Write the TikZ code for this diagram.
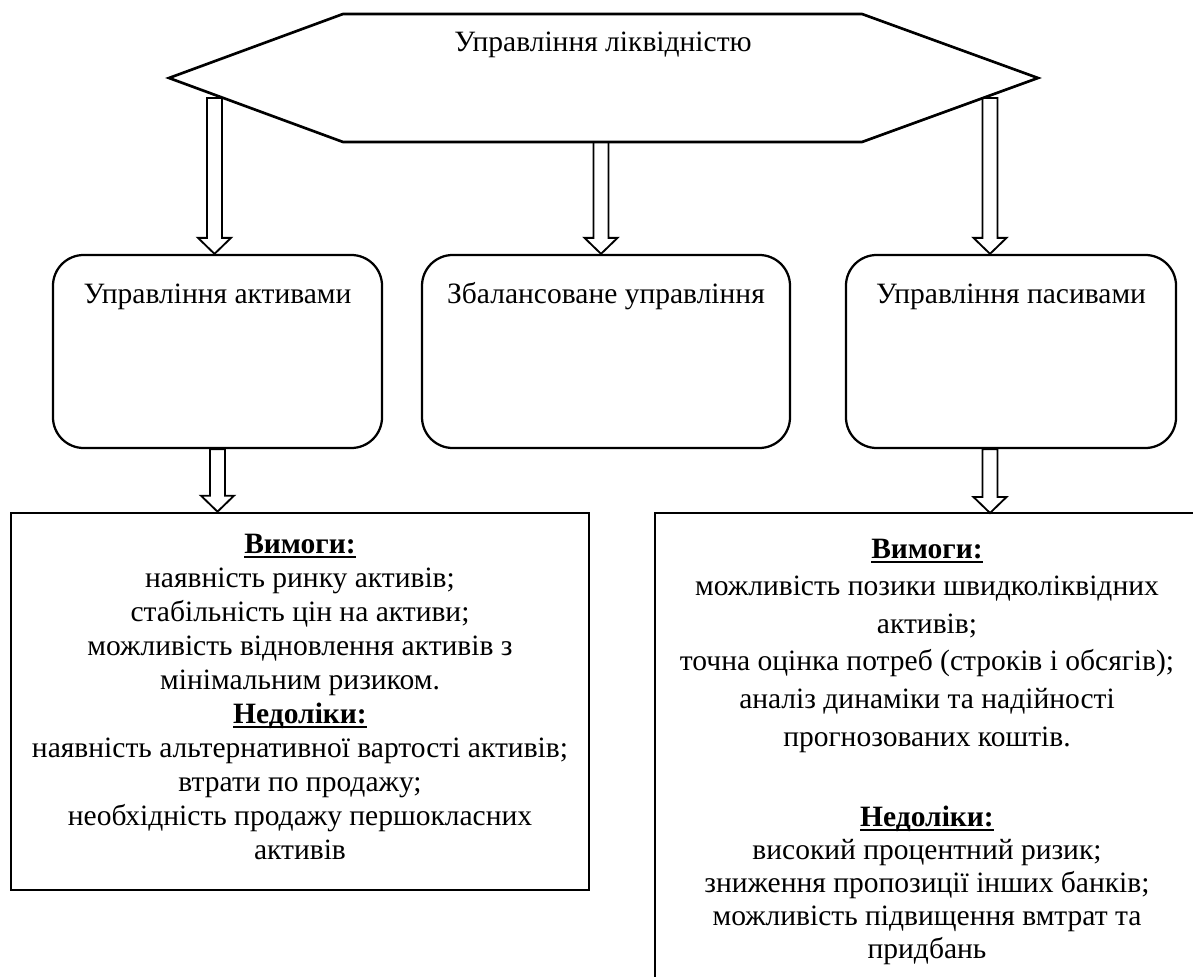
\documentclass[tikz,border=0pt]{standalone}
\usepackage{fontspec}
\setmainfont{Liberation Serif}
\usetikzlibrary{calc}
\newcommand\myul[1]{\setbox0\hbox{\bfseries #1}\rlap{\rule[-2.6pt]{\wd0}{1.2pt}}\box0}
\newcommand\blkarrow[2]{\draw[blk] let \p1=(#1),\p2=(#2) in
  (\x1-3.66pt,\y1) -- (\x1+3.66pt,\y1) -- (\x1+3.66pt,\y2+7.8pt) -- (\x1+8.05pt,\y2+7.8pt)
  -- (\x1,\y2) -- (\x1-8.05pt,\y2+7.8pt) -- (\x1-3.66pt,\y2+7.8pt) -- cycle;}
\begin{document}
\begin{tikzpicture}[x=0.4878pt,y=-0.4878pt,
  txt/.style={font=\fontsize{14.4}{16}\selectfont, inner sep=0pt, anchor=base},
  hexline/.style={line width=1.3pt, line join=miter},
  rbox/.style={draw, line width=1.1pt, rounded corners=15pt, minimum height=94.15pt, inner sep=0pt},
  sqbox/.style={draw, line width=1.3pt, inner sep=0pt},
  blk/.style={draw, line width=0.9pt, fill=white, line join=miter}]
\useasboundingbox (0,0) rectangle (1193,977);
\clip (0,0) rectangle (1193,977);
% rounded boxes
\node[rbox, minimum width=160.5pt] (ra) at (217.5,351.5) {};
\node[rbox, minimum width=179.5pt] (rb) at (606,351.5) {};
\node[rbox, minimum width=161pt] (rc) at (1011,351.5) {};
\node[txt] (ta) at (217.5,304) {Управління активами};
\node[txt] (tb) at (606,304) {Збалансоване управління};
\node[txt] (tc) at (1011,304) {Управління пасивами};
% lower boxes
\node[sqbox, minimum width=281.95pt, minimum height=183.9pt] (lb) at (300,701.5) {};
\coordinate (rtl) at (655,513);
\draw[sqbox] (655,1000) -- (rtl) -- (1215,513);
% arrows
\coordinate (s1) at (214.5,98);
\coordinate (s2) at (601,142);
\coordinate (s3) at (990,98);
\blkarrow{s1}{s1 |- ra.north}
\blkarrow{s2}{s2 |- rb.north}
\blkarrow{s3}{s3 |- rc.north}
\blkarrow{ra.south}{ra.south |- lb.north}
\blkarrow{s3 |- rc.south}{s3 |- rtl}
% hexagon
\draw[hexline] (169,78) -- (343,14) -- (862,14) -- (1038,78) -- (862,142) -- (343,142) -- cycle;
\node[txt] (title) at (603,52) {Управління ліквідністю};
% left text
\foreach \t [count=\i from 0] in {{\myul{Вимоги:}},{наявність ринку активів;},{стабільність цін на активи;},{можливість відновлення активів з},{мінімальним ризиком.},{\myul{Недоліки:}},{наявність альтернативної вартості активів;},{втрати по продажу;},{необхідність продажу першокласних},{активів}}
  \node[txt, name=la\i] at (300,{553+34*\i}) {\t};
% right text
\foreach \t [count=\i from 0] in {{\myul{Вимоги:}},{можливість позики швидколіквідних},{активів;},{точна оцінка потреб (строків і обсягів);},{аналіз динаміки та надійності},{прогнозованих коштів.}}
  \node[txt, name=rt\i] at (927,{558+37.6*\i}) {\t};
\foreach \t [count=\i from 0] in {{\myul{Недоліки:}},{високий процентний ризик;},{зниження пропозиції інших банків;},{можливість підвищення вмтрат та},{придбань}}
  \node[txt, name=rn\i] at (927,{826+33*\i}) {\t};
\end{tikzpicture}
\end{document}
